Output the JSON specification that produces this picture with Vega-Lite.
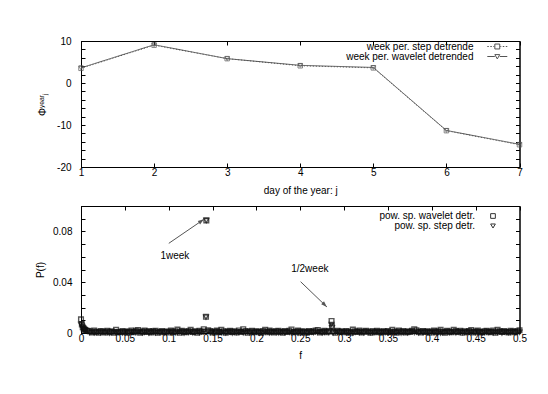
{
  "$schema": "https://vega.github.io/schema/vega-lite/v6.json",
  "padding": {"left": 34, "top": 35, "right": 0, "bottom": 0},
  "background": "white",
  "spacing": 9,
  "config": {
    "font": "Liberation Sans",
    "view": {"stroke": "#000", "strokeWidth": 1},
    "axis": {"grid": false, "labelFontSize": 10, "titleFontSize": 10, "titleFontWeight": "normal", "labelColor": "#000", "titleColor": "#000", "domainColor": "#000", "tickColor": "#000", "tickSize": -4, "labelFlush": false, "labelFont": "Liberation Sans", "titleFont": "Liberation Sans"},
    "legend": {"labelFont": "Liberation Sans", "labelFontSize": 10, "labelColor": "#000"}
  },
  "datasets": {
    "phase": [
      {"day": 1, "step": 3.5, "wavelet": 3.6},
      {"day": 2, "step": 9.0, "wavelet": 9.1},
      {"day": 3, "step": 5.8, "wavelet": 5.8},
      {"day": 4, "step": 4.1, "wavelet": 4.2},
      {"day": 5, "step": 3.6, "wavelet": 3.7},
      {"day": 6, "step": -11.35, "wavelet": -11.3},
      {"day": 7, "step": -14.7, "wavelet": -14.6}
    ],
    "spec": [
      {"f": 0, "wavelet": 0.0108, "step": 0.0068},
      {"f": 0.001, "wavelet": 0.0068, "step": 0.0055},
      {"f": 0.002, "wavelet": 0.0045, "step": 0.004},
      {"f": 0.003, "wavelet": 0.0035, "step": 0.003},
      {"f": 0.004, "wavelet": 0.0028, "step": 0.0025},
      {"f": 0.005, "wavelet": 0.0022, "step": 0.002},
      {"f": 0.0075, "wavelet": 0.0018, "step": 0.0015},
      {"f": 0.0100, "wavelet": 0.0014, "step": 0.0003},
      {"f": 0.0125, "wavelet": 0.0005, "step": 0.0009},
      {"f": 0.0150, "wavelet": 0.0019, "step": 0.0001},
      {"f": 0.0175, "wavelet": 0.0008, "step": 0.0006},
      {"f": 0.0200, "wavelet": 0.0002, "step": 0.0011},
      {"f": 0.0225, "wavelet": 0.0016, "step": 0.0002},
      {"f": 0.0250, "wavelet": 0.0011, "step": 0.0008},
      {"f": 0.0275, "wavelet": 0.0004, "step": 0.0004},
      {"f": 0.0300, "wavelet": 0.0018, "step": 0.0012},
      {"f": 0.0325, "wavelet": 0.0007, "step": 0.0000},
      {"f": 0.0350, "wavelet": 0.0013, "step": 0.0007},
      {"f": 0.0375, "wavelet": 0.0003, "step": 0.0010},
      {"f": 0.0400, "wavelet": 0.0026, "step": 0.0002},
      {"f": 0.0425, "wavelet": 0.0009, "step": 0.0005},
      {"f": 0.0450, "wavelet": 0.0006, "step": 0.0009},
      {"f": 0.0475, "wavelet": 0.0015, "step": 0.0001},
      {"f": 0.0500, "wavelet": 0.0010, "step": 0.0006},
      {"f": 0.0525, "wavelet": 0.0002, "step": 0.0011},
      {"f": 0.0550, "wavelet": 0.0012, "step": 0.0003},
      {"f": 0.0575, "wavelet": 0.0020, "step": 0.0008},
      {"f": 0.0600, "wavelet": 0.0006, "step": 0.0010},
      {"f": 0.0625, "wavelet": 0.0017, "step": 0.0004},
      {"f": 0.0650, "wavelet": 0.0024, "step": 0.0007},
      {"f": 0.0675, "wavelet": 0.0003, "step": 0.0012},
      {"f": 0.0700, "wavelet": 0.0011, "step": 0.0001},
      {"f": 0.0725, "wavelet": 0.0019, "step": 0.0005},
      {"f": 0.0750, "wavelet": 0.0008, "step": 0.0009},
      {"f": 0.0775, "wavelet": 0.0015, "step": 0.0000},
      {"f": 0.0800, "wavelet": 0.0005, "step": 0.0006},
      {"f": 0.0825, "wavelet": 0.0013, "step": 0.0011},
      {"f": 0.0850, "wavelet": 0.0018, "step": 0.0002},
      {"f": 0.0875, "wavelet": 0.0002, "step": 0.0008},
      {"f": 0.0900, "wavelet": 0.0010, "step": 0.0004},
      {"f": 0.0925, "wavelet": 0.0016, "step": 0.0010},
      {"f": 0.0950, "wavelet": 0.0007, "step": 0.0001},
      {"f": 0.0975, "wavelet": 0.0012, "step": 0.0007},
      {"f": 0.1000, "wavelet": 0.0004, "step": 0.0012},
      {"f": 0.1025, "wavelet": 0.0019, "step": 0.0003},
      {"f": 0.1050, "wavelet": 0.0009, "step": 0.0009},
      {"f": 0.1075, "wavelet": 0.0014, "step": 0.0002},
      {"f": 0.1100, "wavelet": 0.0027, "step": 0.0006},
      {"f": 0.1125, "wavelet": 0.0003, "step": 0.0011},
      {"f": 0.1150, "wavelet": 0.0017, "step": 0.0004},
      {"f": 0.1175, "wavelet": 0.0011, "step": 0.0000},
      {"f": 0.1200, "wavelet": 0.0006, "step": 0.0008},
      {"f": 0.1225, "wavelet": 0.0015, "step": 0.0005},
      {"f": 0.1250, "wavelet": 0.0025, "step": 0.0010},
      {"f": 0.1275, "wavelet": 0.0008, "step": 0.0001},
      {"f": 0.1300, "wavelet": 0.0013, "step": 0.0007},
      {"f": 0.1325, "wavelet": 0.0002, "step": 0.0012},
      {"f": 0.1350, "wavelet": 0.0018, "step": 0.0003},
      {"f": 0.1375, "wavelet": 0.0010, "step": 0.0009},
      {"f": 0.1400, "wavelet": 0.0030, "step": 0.0013},
      {"f": 0.1425, "wavelet": 0.0128, "step": 0.0125},
      {"f": 0.1429, "wavelet": 0.0887, "step": 0.0885},
      {"f": 0.1450, "wavelet": 0.0022, "step": 0.0012},
      {"f": 0.1475, "wavelet": 0.0016, "step": 0.0004},
      {"f": 0.1500, "wavelet": 0.0005, "step": 0.0010},
      {"f": 0.1525, "wavelet": 0.0012, "step": 0.0001},
      {"f": 0.1550, "wavelet": 0.0019, "step": 0.0006},
      {"f": 0.1575, "wavelet": 0.0007, "step": 0.0011},
      {"f": 0.1600, "wavelet": 0.0026, "step": 0.0003},
      {"f": 0.1625, "wavelet": 0.0014, "step": 0.0008},
      {"f": 0.1650, "wavelet": 0.0003, "step": 0.0002},
      {"f": 0.1675, "wavelet": 0.0011, "step": 0.0012},
      {"f": 0.1700, "wavelet": 0.0017, "step": 0.0005},
      {"f": 0.1725, "wavelet": 0.0009, "step": 0.0000},
      {"f": 0.1750, "wavelet": 0.0013, "step": 0.0009},
      {"f": 0.1775, "wavelet": 0.0004, "step": 0.0004},
      {"f": 0.1800, "wavelet": 0.0020, "step": 0.0007},
      {"f": 0.1825, "wavelet": 0.0008, "step": 0.0010},
      {"f": 0.1850, "wavelet": 0.0030, "step": 0.0002},
      {"f": 0.1875, "wavelet": 0.0015, "step": 0.0006},
      {"f": 0.1900, "wavelet": 0.0002, "step": 0.0011},
      {"f": 0.1925, "wavelet": 0.0012, "step": 0.0001},
      {"f": 0.1950, "wavelet": 0.0018, "step": 0.0008},
      {"f": 0.1975, "wavelet": 0.0006, "step": 0.0003},
      {"f": 0.2000, "wavelet": 0.0014, "step": 0.0012},
      {"f": 0.2025, "wavelet": 0.0010, "step": 0.0005},
      {"f": 0.2050, "wavelet": 0.0003, "step": 0.0009},
      {"f": 0.2075, "wavelet": 0.0016, "step": 0.0000},
      {"f": 0.2100, "wavelet": 0.0025, "step": 0.0007},
      {"f": 0.2125, "wavelet": 0.0007, "step": 0.0010},
      {"f": 0.2150, "wavelet": 0.0019, "step": 0.0002},
      {"f": 0.2175, "wavelet": 0.0011, "step": 0.0006},
      {"f": 0.2200, "wavelet": 0.0004, "step": 0.0011},
      {"f": 0.2225, "wavelet": 0.0013, "step": 0.0004},
      {"f": 0.2250, "wavelet": 0.0017, "step": 0.0001},
      {"f": 0.2275, "wavelet": 0.0009, "step": 0.0008},
      {"f": 0.2300, "wavelet": 0.0002, "step": 0.0012},
      {"f": 0.2325, "wavelet": 0.0015, "step": 0.0003},
      {"f": 0.2350, "wavelet": 0.0008, "step": 0.0009},
      {"f": 0.2375, "wavelet": 0.0018, "step": 0.0005},
      {"f": 0.2400, "wavelet": 0.0028, "step": 0.0002},
      {"f": 0.2425, "wavelet": 0.0006, "step": 0.0010},
      {"f": 0.2450, "wavelet": 0.0012, "step": 0.0006},
      {"f": 0.2475, "wavelet": 0.0019, "step": 0.0000},
      {"f": 0.2500, "wavelet": 0.0005, "step": 0.0011},
      {"f": 0.2525, "wavelet": 0.0014, "step": 0.0004},
      {"f": 0.2550, "wavelet": 0.0010, "step": 0.0008},
      {"f": 0.2575, "wavelet": 0.0003, "step": 0.0001},
      {"f": 0.2600, "wavelet": 0.0016, "step": 0.0012},
      {"f": 0.2625, "wavelet": 0.0008, "step": 0.0007},
      {"f": 0.2650, "wavelet": 0.0013, "step": 0.0003},
      {"f": 0.2675, "wavelet": 0.0020, "step": 0.0009},
      {"f": 0.2700, "wavelet": 0.0024, "step": 0.0005},
      {"f": 0.2725, "wavelet": 0.0004, "step": 0.0010},
      {"f": 0.2750, "wavelet": 0.0011, "step": 0.0002},
      {"f": 0.2775, "wavelet": 0.0017, "step": 0.0006},
      {"f": 0.2800, "wavelet": 0.0007, "step": 0.0011},
      {"f": 0.2825, "wavelet": 0.0015, "step": 0.0004},
      {"f": 0.2857, "wavelet": 0.0095, "step": 0.0068},
      {"f": 0.2862, "wavelet": 0.0050, "step": 0.0042},
      {"f": 0.2875, "wavelet": 0.0012, "step": 0.0001},
      {"f": 0.2900, "wavelet": 0.0002, "step": 0.0008},
      {"f": 0.2925, "wavelet": 0.0018, "step": 0.0012},
      {"f": 0.2950, "wavelet": 0.0009, "step": 0.0003},
      {"f": 0.2975, "wavelet": 0.0014, "step": 0.0007},
      {"f": 0.3000, "wavelet": 0.0006, "step": 0.0010},
      {"f": 0.3025, "wavelet": 0.0016, "step": 0.0002},
      {"f": 0.3050, "wavelet": 0.0011, "step": 0.0005},
      {"f": 0.3075, "wavelet": 0.0003, "step": 0.0009},
      {"f": 0.3100, "wavelet": 0.0027, "step": 0.0000},
      {"f": 0.3125, "wavelet": 0.0013, "step": 0.0006},
      {"f": 0.3150, "wavelet": 0.0008, "step": 0.0011},
      {"f": 0.3175, "wavelet": 0.0019, "step": 0.0004},
      {"f": 0.3200, "wavelet": 0.0005, "step": 0.0008},
      {"f": 0.3225, "wavelet": 0.0012, "step": 0.0001},
      {"f": 0.3250, "wavelet": 0.0017, "step": 0.0012},
      {"f": 0.3275, "wavelet": 0.0010, "step": 0.0007},
      {"f": 0.3300, "wavelet": 0.0002, "step": 0.0003},
      {"f": 0.3325, "wavelet": 0.0015, "step": 0.0009},
      {"f": 0.3350, "wavelet": 0.0007, "step": 0.0005},
      {"f": 0.3375, "wavelet": 0.0018, "step": 0.0010},
      {"f": 0.3400, "wavelet": 0.0011, "step": 0.0002},
      {"f": 0.3425, "wavelet": 0.0004, "step": 0.0006},
      {"f": 0.3450, "wavelet": 0.0014, "step": 0.0011},
      {"f": 0.3475, "wavelet": 0.0009, "step": 0.0004},
      {"f": 0.3500, "wavelet": 0.0016, "step": 0.0001},
      {"f": 0.3525, "wavelet": 0.0006, "step": 0.0008},
      {"f": 0.3550, "wavelet": 0.0026, "step": 0.0003},
      {"f": 0.3575, "wavelet": 0.0012, "step": 0.0012},
      {"f": 0.3600, "wavelet": 0.0003, "step": 0.0007},
      {"f": 0.3625, "wavelet": 0.0019, "step": 0.0009},
      {"f": 0.3650, "wavelet": 0.0010, "step": 0.0000},
      {"f": 0.3675, "wavelet": 0.0015, "step": 0.0005},
      {"f": 0.3700, "wavelet": 0.0005, "step": 0.0010},
      {"f": 0.3725, "wavelet": 0.0013, "step": 0.0002},
      {"f": 0.3750, "wavelet": 0.0008, "step": 0.0006},
      {"f": 0.3775, "wavelet": 0.0018, "step": 0.0011},
      {"f": 0.3800, "wavelet": 0.0030, "step": 0.0004},
      {"f": 0.3825, "wavelet": 0.0022, "step": 0.0008},
      {"f": 0.3850, "wavelet": 0.0011, "step": 0.0001},
      {"f": 0.3875, "wavelet": 0.0004, "step": 0.0012},
      {"f": 0.3900, "wavelet": 0.0016, "step": 0.0003},
      {"f": 0.3925, "wavelet": 0.0009, "step": 0.0007},
      {"f": 0.3950, "wavelet": 0.0014, "step": 0.0010},
      {"f": 0.3975, "wavelet": 0.0002, "step": 0.0005},
      {"f": 0.4000, "wavelet": 0.0012, "step": 0.0009},
      {"f": 0.4025, "wavelet": 0.0019, "step": 0.0002},
      {"f": 0.4050, "wavelet": 0.0007, "step": 0.0006},
      {"f": 0.4075, "wavelet": 0.0013, "step": 0.0011},
      {"f": 0.4100, "wavelet": 0.0026, "step": 0.0000},
      {"f": 0.4125, "wavelet": 0.0010, "step": 0.0004},
      {"f": 0.4150, "wavelet": 0.0003, "step": 0.0008},
      {"f": 0.4175, "wavelet": 0.0017, "step": 0.0012},
      {"f": 0.4200, "wavelet": 0.0011, "step": 0.0003},
      {"f": 0.4225, "wavelet": 0.0006, "step": 0.0007},
      {"f": 0.4250, "wavelet": 0.0025, "step": 0.0010},
      {"f": 0.4275, "wavelet": 0.0015, "step": 0.0001},
      {"f": 0.4300, "wavelet": 0.0008, "step": 0.0006},
      {"f": 0.4325, "wavelet": 0.0018, "step": 0.0011},
      {"f": 0.4350, "wavelet": 0.0002, "step": 0.0004},
      {"f": 0.4375, "wavelet": 0.0013, "step": 0.0009},
      {"f": 0.4400, "wavelet": 0.0010, "step": 0.0002},
      {"f": 0.4425, "wavelet": 0.0016, "step": 0.0008},
      {"f": 0.4450, "wavelet": 0.0024, "step": 0.0005},
      {"f": 0.4475, "wavelet": 0.0005, "step": 0.0012},
      {"f": 0.4500, "wavelet": 0.0012, "step": 0.0003},
      {"f": 0.4525, "wavelet": 0.0019, "step": 0.0007},
      {"f": 0.4550, "wavelet": 0.0009, "step": 0.0010},
      {"f": 0.4575, "wavelet": 0.0004, "step": 0.0001},
      {"f": 0.4600, "wavelet": 0.0014, "step": 0.0006},
      {"f": 0.4625, "wavelet": 0.0017, "step": 0.0011},
      {"f": 0.4650, "wavelet": 0.0007, "step": 0.0004},
      {"f": 0.4675, "wavelet": 0.0011, "step": 0.0009},
      {"f": 0.4700, "wavelet": 0.0020, "step": 0.0002},
      {"f": 0.4725, "wavelet": 0.0003, "step": 0.0008},
      {"f": 0.4750, "wavelet": 0.0025, "step": 0.0005},
      {"f": 0.4775, "wavelet": 0.0013, "step": 0.0012},
      {"f": 0.4800, "wavelet": 0.0008, "step": 0.0000},
      {"f": 0.4825, "wavelet": 0.0016, "step": 0.0007},
      {"f": 0.4850, "wavelet": 0.0010, "step": 0.0010},
      {"f": 0.4875, "wavelet": 0.0005, "step": 0.0003},
      {"f": 0.4900, "wavelet": 0.0018, "step": 0.0006},
      {"f": 0.4925, "wavelet": 0.0012, "step": 0.0011},
      {"f": 0.4950, "wavelet": 0.0006, "step": 0.0004},
      {"f": 0.4975, "wavelet": 0.0015, "step": 0.0009},
      {"f": 0.5000, "wavelet": 0.0022, "step": 0.0006}
    ],
    "notes": [
      {"label": "1week", "tf": 0.0906, "tp": 0.0606, "f0": 0.1001, "p0": 0.0706, "f1": 0.1401, "p1": 0.0895},
      {"label": "1/2week", "tf": 0.2397, "tp": 0.0504, "f0": 0.2504, "p0": 0.0404, "f1": 0.2804, "p1": 0.0205}
    ]
  },
  "vconcat": [
    {
      "width": 438.5,
      "height": 126,
      "data": {"name": "phase"},
      "transform": [{"fold": ["step", "wavelet"], "as": ["series", "phi"]}],
      "layer": [
        {
          "mark": {"type": "line", "color": "#555", "strokeWidth": 1},
          "encoding": {
            "x": {"field": "day", "type": "quantitative", "scale": {"domain": [1, 7], "nice": false},
                  "axis": {"orient": "bottom", "values": [1, 2, 3, 4, 5, 6, 7], "format": "d", "title": "day of the year: j", "labelPadding": 4, "titlePadding": 8}},
            "y": {"field": "phi", "type": "quantitative", "scale": {"domain": [-20, 10], "nice": false, "zero": false},
                  "axis": {"orient": "left", "values": [-20, -18, -16, -14, -12, -10, -8, -6, -4, -2, 0, 2, 4, 6, 8, 10], "labelExpr": "datum.value % 10 == 0 ? '' + datum.value : ''", "title": "Φʸᵉᵃʳⱼ", "labelPadding": 14, "titlePadding": 9}},
            "strokeDash": {"field": "series", "type": "nominal", "scale": {"domain": ["step", "wavelet"], "range": [[1, 2], [1, 0]]}, "legend": null},
            "detail": {"field": "series"}
          }
        },
        {
          "mark": {"type": "point", "filled": false, "color": "#555", "size": 20, "strokeWidth": 1},
          "encoding": {
            "x": {"field": "day", "type": "quantitative",
                  "axis": {"orient": "top", "values": [1, 2, 3, 4, 5, 6, 7], "labels": false, "title": null}},
            "y": {"field": "phi", "type": "quantitative",
                  "axis": {"orient": "right", "values": [-20, -18, -16, -14, -12, -10, -8, -6, -4, -2, 0, 2, 4, 6, 8, 10], "labels": false, "title": null}},
            "shape": {"field": "series", "type": "nominal", "scale": {"domain": ["step", "wavelet"], "range": ["square", "triangle-down"]}, "legend": null}
          }
        },
        {
          "transform": [{"filter": "false"}],
          "mark": {"type": "point", "filled": false, "color": "#555", "strokeWidth": 1},
          "encoding": {
            "x": {"field": "day", "type": "quantitative", "axis": null},
            "y": {"field": "phi", "type": "quantitative", "axis": null},
            "shape": {"field": "series", "type": "nominal",
                      "scale": {"domain": ["step", "wavelet"], "range": ["M-3.65,0H-3.1M-2.55,0H-2.0M-1.45,0H-1.1M1.1,0H1.45M2.0,0H2.55M3.1,0H3.65M-0.9,-0.9H0.9V0.9H-0.9Z", "M-3.65,0H-0.9M0.9,0H3.65M-0.9,-0.7H0.9L0,0.9Z"]},
                      "legend": {"title": null, "orient": "none", "legendX": 411.3, "legendY": 0.5, "labelAlign": "right", "labelOffset": -28.8, "symbolSize": 30, "symbolOpacity": 1, "symbolStrokeColor": "#555", "symbolFillColor": "transparent", "symbolStrokeWidth": 1, "rowPadding": -2, "padding": 0,
                                 "labelExpr": "datum.label == 'step' ? 'week per. step detrende' : 'week per. wavelet detrended'"}}
          }
        }
      ],
      "resolve": {"scale": {"shape": "independent"}, "axis": {"x": "independent", "y": "independent"}}
    },
    {
      "width": 438.5,
      "height": 127,
      "layer": [
        {
          "data": {"name": "spec"},
          "transform": [{"fold": ["wavelet", "step"], "as": ["series", "P"]}],
          "mark": {"type": "point", "filled": false, "color": "#111", "size": 22, "strokeWidth": 1.4},
          "encoding": {
            "x": {"field": "f", "type": "quantitative", "scale": {"domain": [0, 0.5], "nice": false},
                  "axis": {"orient": "bottom", "values": [0, 0.05, 0.1, 0.15, 0.2, 0.25, 0.3, 0.35, 0.4, 0.45, 0.5], "format": "~g", "title": "f", "labelPadding": 4, "titlePadding": 7}},
            "y": {"field": "P", "type": "quantitative", "scale": {"domain": [0, 0.1], "nice": false},
                  "axis": {"orient": "left", "values": [0, 0.01, 0.02, 0.03, 0.04, 0.05, 0.06, 0.07, 0.08, 0.09, 0.1], "format": "~g", "labelExpr": "datum.value == 0 || abs(datum.value - 0.04) < 0.0001 || abs(datum.value - 0.08) < 0.0001 ? datum.label : ''", "title": "P(f)", "labelPadding": 13, "titlePadding": 7.5}},
            "shape": {"field": "series", "type": "nominal", "scale": {"domain": ["wavelet", "step"], "range": ["square", "triangle-down"]}, "legend": null}
          }
        },
        {
          "data": {"name": "notes"},
          "mark": {"type": "rule", "color": "#555", "strokeWidth": 1},
          "encoding": {
            "x": {"field": "f0", "type": "quantitative",
                  "axis": {"orient": "top", "values": [0, 0.05, 0.1, 0.15, 0.2, 0.25, 0.3, 0.35, 0.4, 0.45, 0.5], "labels": false, "title": null}},
            "y": {"field": "p0", "type": "quantitative",
                  "axis": {"orient": "right", "values": [0, 0.01, 0.02, 0.03, 0.04, 0.05, 0.06, 0.07, 0.08, 0.09, 0.1], "labels": false, "title": null}},
            "x2": {"field": "f1"},
            "y2": {"field": "p1"}
          }
        },
        {
          "data": {"name": "notes"},
          "transform": [{"filter": "datum.label == '1week'"}],
          "mark": {"type": "point", "shape": "M-1,3L0,0L1,3Z", "size": 16, "angle": 55.5, "filled": true, "color": "#555", "opacity": 1},
          "encoding": {
            "x": {"field": "f1", "type": "quantitative", "axis": null},
            "y": {"field": "p1", "type": "quantitative", "axis": null}
          }
        },
        {
          "data": {"name": "notes"},
          "transform": [{"filter": "datum.label == '1/2week'"}],
          "mark": {"type": "point", "shape": "M-1,3L0,0L1,3Z", "size": 16, "angle": 134, "filled": true, "color": "#555", "opacity": 1},
          "encoding": {
            "x": {"field": "f1", "type": "quantitative", "axis": null},
            "y": {"field": "p1", "type": "quantitative", "axis": null}
          }
        },
        {
          "data": {"name": "notes"},
          "mark": {"type": "text", "align": "left", "baseline": "middle", "fontSize": 10, "color": "#000", "font": "Liberation Sans"},
          "encoding": {
            "x": {"field": "tf", "type": "quantitative", "axis": null},
            "y": {"field": "tp", "type": "quantitative", "axis": null},
            "text": {"field": "label"}
          }
        },
        {
          "data": {"name": "notes"},
          "transform": [{"filter": "false"}],
          "mark": {"type": "point", "filled": false, "color": "#333", "strokeWidth": 1},
          "encoding": {
            "x": {"field": "f1", "type": "quantitative", "axis": null},
            "y": {"field": "p1", "type": "quantitative", "axis": null},
            "shape": {"field": "label", "type": "nominal", "scale": {"domain": ["wavelet", "step"], "range": ["square", "triangle-down"]},
                      "legend": {"title": null, "orient": "none", "legendX": 407, "legendY": 5, "labelAlign": "right", "labelOffset": -23, "symbolSize": 22, "symbolOpacity": 1, "symbolStrokeColor": "#333", "symbolFillColor": "transparent", "symbolStrokeWidth": 1, "rowPadding": -2, "padding": 0,
                                 "labelExpr": "datum.label == 'wavelet' ? 'pow. sp. wavelet detr.' : 'pow. sp. step detr.'"}}
          }
        }
      ],
      "resolve": {"scale": {"shape": "independent"}, "axis": {"x": "independent", "y": "independent"}}
    }
  ]
}
